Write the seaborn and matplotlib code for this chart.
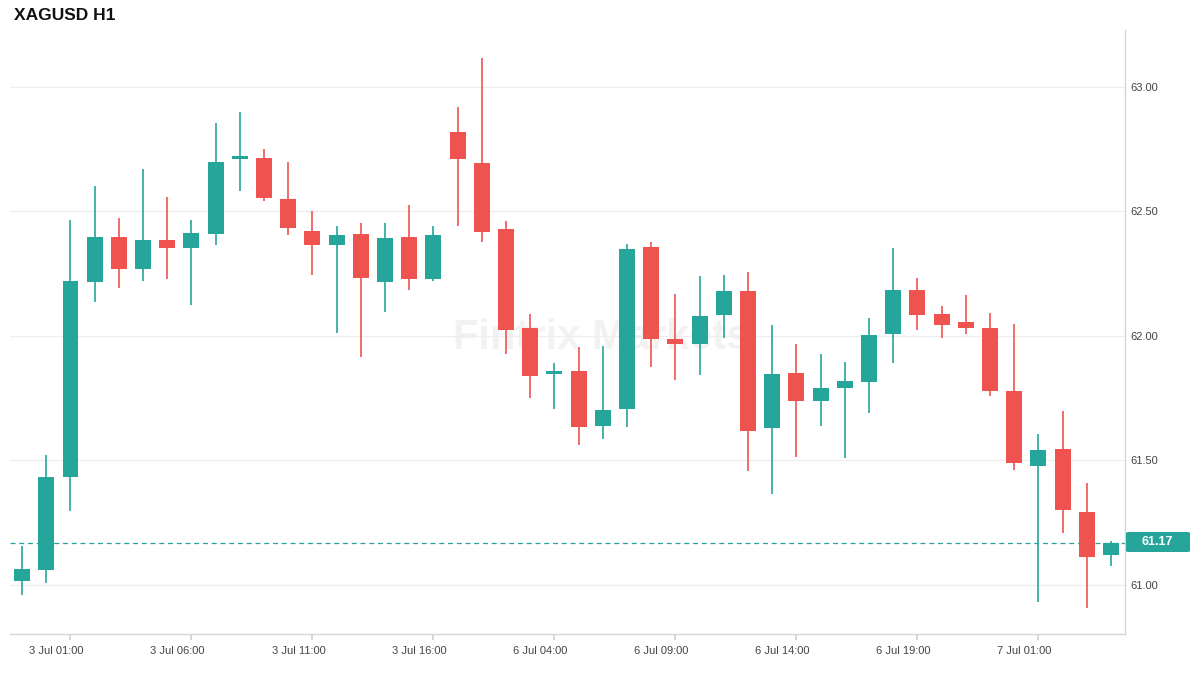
import numpy as np
import pandas as pd
import seaborn as sns
import matplotlib.pyplot as plt
from matplotlib.patches import FancyBboxPatch

sns.set_theme(style='white')
plt.rcParams['font.family'] = ['Liberation Sans', 'DejaVu Sans']

# hourly candles
opens = [61.014, 61.062, 61.433, 62.218, 62.397, 62.270, 62.385, 62.352, 62.411, 62.711,
         62.716, 62.551, 62.421, 62.364, 62.409, 62.218, 62.397, 62.227, 62.820, 62.695,
         62.430, 62.031, 61.846, 61.858, 61.638, 61.707, 62.357, 61.988, 61.969, 62.085,
         62.180, 61.631, 61.851, 61.738, 61.792, 61.816, 62.009, 62.184, 62.088, 62.055,
         62.031, 61.780, 61.477, 61.548, 61.295, 61.120]
highs = [61.158, 61.520, 62.466, 62.603, 62.475, 62.671, 62.558, 62.466, 62.856, 62.901,
         62.752, 62.700, 62.503, 62.442, 62.454, 62.454, 62.527, 62.442, 62.920, 63.118,
         62.463, 62.088, 61.891, 61.955, 61.958, 62.369, 62.378, 62.168, 62.241, 62.244,
         62.256, 62.043, 61.967, 61.927, 61.894, 62.071, 62.354, 62.232, 62.120, 62.165,
         62.092, 62.047, 61.605, 61.697, 61.411, 61.175]
lows = [60.960, 61.009, 61.298, 62.137, 62.191, 62.222, 62.230, 62.125, 62.364, 62.581,
        62.541, 62.407, 62.246, 62.012, 61.917, 62.097, 62.185, 62.222, 62.442, 62.376,
        61.929, 61.750, 61.707, 61.562, 61.586, 61.634, 61.875, 61.823, 61.844, 61.993,
        61.458, 61.364, 61.513, 61.638, 61.510, 61.692, 61.893, 62.024, 61.990, 62.007,
        61.759, 61.461, 60.931, 61.208, 60.906, 61.075]
closes = [61.064, 61.435, 62.220, 62.397, 62.270, 62.385, 62.352, 62.414, 62.700, 62.716,
          62.556, 62.432, 62.364, 62.406, 62.234, 62.393, 62.227, 62.406, 62.709, 62.419,
          62.024, 61.841, 61.858, 61.634, 61.702, 62.350, 61.988, 61.969, 62.080, 62.180,
          61.619, 61.846, 61.738, 61.790, 61.818, 62.003, 62.184, 62.085, 62.045, 62.033,
          61.780, 61.489, 61.544, 61.300, 61.114, 61.170]

tick_idx = [2, 7, 12, 17, 22, 27, 32, 37, 42]
tick_labels = ['3 Jul 01:00', '3 Jul 06:00', '3 Jul 11:00', '3 Jul 16:00', '6 Jul 04:00',
               '6 Jul 09:00', '6 Jul 14:00', '6 Jul 19:00', '7 Jul 01:00']
price_ticks = [61.0, 61.5, 62.0, 62.5, 63.0]
last_price = 61.17

up_col = '#26a69a'
down_col = '#ef5350'

df = pd.DataFrame({'open': opens, 'high': highs, 'low': lows, 'close': closes})
df['x'] = np.arange(len(df))
df['up'] = df['close'] >= df['open']
df['color'] = np.where(df['up'], up_col, down_col)
df['bottom'] = df[['open', 'close']].min(axis=1)
df['height'] = (df['close'] - df['open']).abs().clip(lower=0.012)

fig = plt.figure(figsize=(12, 6.75), dpi=100)
ax = fig.add_axes([10 / 1200, 1 - 634 / 675, 1115 / 1200, 604 / 675])

ax.vlines(df['x'], df['low'], df['high'], colors=df['color'], linewidth=1.2, zorder=2)
ax.bar(df['x'], df['height'], bottom=df['bottom'], width=0.66, color=df['color'],
       linewidth=0, zorder=3)

ax.set_xlim(-0.5, 45.58)
ax.set_ylim(60.803, 63.229)

ax.axhline(last_price, color=up_col, linestyle=(0, (4, 3)), linewidth=0.9, zorder=1)

ax.yaxis.tick_right()
ax.set_yticks(price_ticks)
ax.set_yticklabels([f'{v:.2f}' for v in price_ticks])
ax.grid(axis='y', color='#eeeeee', linewidth=0.9)
ax.grid(axis='x', visible=False)
ax.set_xticks(tick_idx)
ax.set_xticklabels([])
for i, lab in zip(tick_idx, tick_labels):
    ax.annotate(lab, xy=(i, 0), xycoords=('data', 'axes fraction'), xytext=(-10, -12),
                textcoords='offset points', ha='center', va='center', fontsize=8,
                color='#444444', annotation_clip=False)
ax.tick_params(axis='x', length=4, color='#d0d0d0', bottom=True)
ax.tick_params(axis='y', length=0, labelsize=8, labelcolor='#444444', pad=4)

for side in ['top', 'left']:
    ax.spines[side].set_visible(False)
for side in ['bottom', 'right']:
    ax.spines[side].set_color('#d6d6d6')
    ax.spines[side].set_linewidth(1)

# last price tag
tag = FancyBboxPatch((1126 / 1200, 1 - 552 / 675), 64 / 1200, 20 / 675,
                     boxstyle='round,pad=0,rounding_size=0.002', transform=fig.transFigure,
                     fc=up_col, ec='none')
fig.patches.append(tag)
fig.text(1157 / 1200, 1 - 542 / 675, f'{last_price:.2f}', ha='center', va='center',
         color='white', fontsize=9, fontweight='bold')

# watermark
ax.text(0.53, 0.49, 'Fintrix Markets', transform=ax.transAxes, ha='center', va='center',
        fontsize=30, fontweight='bold', color='#f2f2f2', zorder=0)

fig.text(14 / 1200, 1 - 16 / 675, 'XAGUSD H1', ha='left', va='center', fontsize=12.5,
         fontweight='bold', color='#111111')

plt.savefig('out.png', dpi=100)
